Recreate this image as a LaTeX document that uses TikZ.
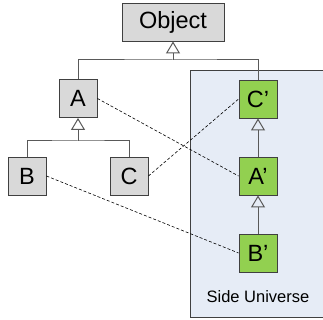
\documentclass[tikz,border=0pt]{standalone}
\usepackage{fontspec}
\setmainfont{Liberation Sans}
\usetikzlibrary{arrows.meta}
\definecolor{boxgray}{HTML}{D9D9D9}
\definecolor{boxgreen}{HTML}{92D050}
\definecolor{sidebg}{HTML}{E6ECF6}
\definecolor{edgegray}{HTML}{404040}
\definecolor{linegray}{HTML}{595959}
\begin{document}
\begin{tikzpicture}[x=1pt,y=1pt,
  cls/.style={draw=edgegray, line width=0.9pt, minimum width=38pt, minimum height=38pt,
    inner sep=0pt, font=\fontsize{23.5}{24}\selectfont},
  plain/.style={cls, fill=boxgray},
  side/.style={cls, fill=boxgreen},
  inherit/.style={draw=linegray, line width=1pt},
  head/.style={-{Triangle[open, length=12pt, width=14pt, line width=1pt]}, draw=linegray, line width=1pt},
  link/.style={dashed, draw=black, line width=0.6pt, dash pattern=on 3pt off 2pt}]
\useasboundingbox (0,0) rectangle (323,-320);
\begin{scope}
  \clip (0,0) rectangle (323,-320);
  % side universe panel
  \fill[sidebg] (190,-70) rectangle (330,-317);
  \draw[edgegray, line width=0.9pt] (330,-70) -- (190,-70) -- (190,-317) -- (330,-317);
\end{scope}
\node[font=\fontsize{16.5}{18}\selectfont] (lbl) at (258,-297) {Side Universe};

% classes
\node[plain, minimum width=102pt] (obj) at (173,-22) {Object};
\node[plain] (a) at (78,-98.5) {A};
\node[plain] (b) at (27,-176) {B};
\node[plain] (c) at (129,-176) {C};
\node[side] (cp) at (258,-99) {C’};
\node[side] (ap) at (258,-176) {A’};
\node[side] (bp) at (258,-253) {B’};

% inheritance from Object
\coordinate (j1) at (173,-60);
\draw[inherit] (a.north) |- (j1) -| (cp.north);
\draw[head] (j1) -- (obj.south);
% inheritance from A
\coordinate (j2) at (78,-141);
\draw[inherit] (b.north) |- (j2) -| (c.north);
\draw[head] (j2) -- (a.south);
% side chain
\draw[head] (ap.north) -- (cp.south);
\draw[head] (bp.north) -- (ap.south);

% correspondences
\draw[link] (a.east) -- (ap.west);
\draw[link] (c.east) -- (cp.west);
\draw[link] (b.east) -- (bp.west);
\end{tikzpicture}
\end{document}
